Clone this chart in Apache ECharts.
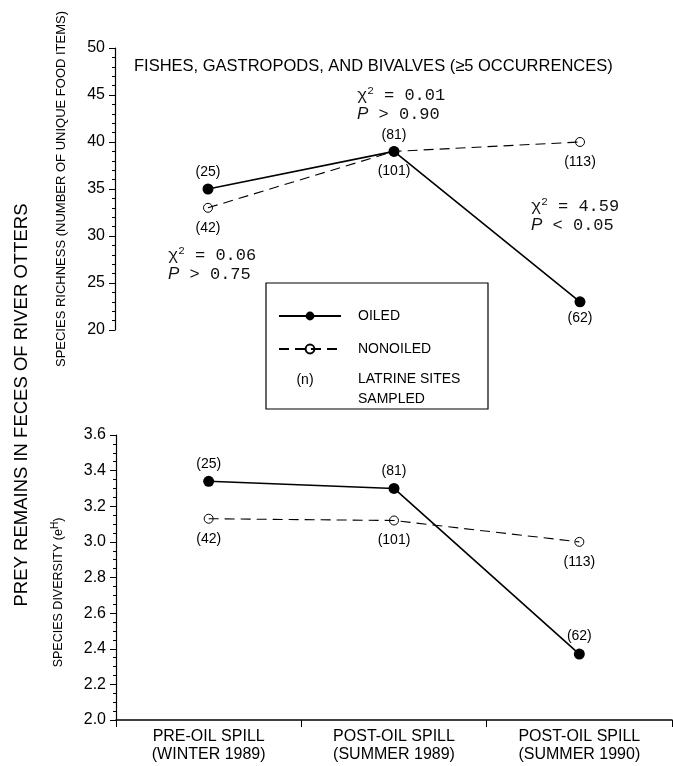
<!DOCTYPE html>
<html>
<head>
<meta charset="utf-8">
<script src="https://cdn.jsdelivr.net/npm/echarts@6/dist/echarts.min.js"></script>
<style>
html,body{margin:0;padding:0;background:#fff;}
#chart{width:673px;height:766px;}
</style>
</head>
<body>
<div id="chart"></div>
<script>
// ---- data ----
const categories = ['PRE-OIL SPILL\n(WINTER 1989)', 'POST-OIL SPILL\n(SUMMER 1989)', 'POST-OIL SPILL\n(SUMMER 1990)'];
const richnessOiled = [35, 39, 23];
const richnessNonoiled = [33, 39, 40];
const diversityOiled = [3.34, 3.30, 2.37];
const diversityNonoiled = [3.13, 3.12, 3.00];
const nOiled = [25, 81, 62];
const nNonoiled = [42, 101, 113];
const richnessRange = [20, 50, 5];
const diversityRange = [2.0, 3.6, 0.2];
const chiTests = [
  ['χ{sup|2} = 0.06', '{it|P} > 0.75'],
  ['χ{sup|2} = 0.01', '{it|P} > 0.90'],
  ['χ{sup|2} = 4.59', '{it|P} < 0.05']
];

// ---- styles (positions of labels) ----
const richOiledPos = ['top', 'top', 'bottom'];
const richNonPos = ['bottom', 'bottom', 'bottom'];
const divOiledPos = ['top', 'top', 'top'];
const divNonPos = ['bottom', 'bottom', 'bottom'];
const chiPos = [[168, 246], [357, 86], [531, 197]];

const FONT = '"Liberation Sans", Arial, sans-serif';
const MONO = '"Liberation Mono", "DejaVu Sans Mono", monospace';

function items(vals, ns, pos, dist) {
  return vals.map((v, i) => ({
    value: v,
    label: { show: true, position: pos[i], distance: dist[pos[i]], formatter: '(' + ns[i] + ')' }
  }));
}

const oiledStyle = {
  symbol: 'circle', symbolSize: 11,
  itemStyle: { color: '#000' },
  lineStyle: { color: '#000', width: 1.6 },
  label: { color: '#000', fontSize: 14, fontFamily: FONT }
};
const nonStyle = {
  symbol: 'circle', symbolSize: 9,
  itemStyle: { color: 'rgba(255,255,255,0)', borderColor: '#000', borderWidth: 1 },
  lineStyle: { color: '#000', width: 1.1, type: [10, 6] },
  label: { color: '#000', fontSize: 14, fontFamily: FONT }
};

const yAxisCommon = {
  type: 'value',
  axisLine: { show: true, lineStyle: { color: '#000', width: 1.2 } },
  axisTick: { show: true, inside: false, length: 6, lineStyle: { color: '#000' } },
  minorTick: { show: true, length: 3, lineStyle: { color: '#000' } },
  splitLine: { show: false },
  axisLabel: { color: '#000', fontSize: 16, fontFamily: FONT, margin: 10 },
  nameLocation: 'middle', nameRotate: 90,
  nameTextStyle: { color: '#000', fontSize: 13, fontFamily: FONT }
};

const graphics = [
  {
    type: 'text', x: 22, y: 405, rotation: Math.PI / 2,
    style: { text: 'PREY REMAINS IN FECES OF RIVER OTTERS', fill: '#000', font: '18.5px ' + FONT, align: 'center', verticalAlign: 'middle' }
  },
  {
    type: 'rect', shape: { x: 266, y: 283, width: 222, height: 126 },
    style: { fill: 'none', stroke: '#000', lineWidth: 1.2 }
  },
  {
    type: 'text', x: 305, y: 380,
    style: { text: '(n)', fill: '#000', font: '14px ' + FONT, align: 'center', verticalAlign: 'middle' }
  },
  {
    type: 'text', x: 358, y: 369,
    style: { text: 'LATRINE SITES\nSAMPLED', fill: '#000', font: '14px ' + FONT, lineHeight: 20, align: 'left', verticalAlign: 'top' }
  }
];
chiTests.forEach((t, i) => {
  graphics.push({
    type: 'text', x: chiPos[i][0], y: chiPos[i][1],
    style: {
      text: t[0] + '\n' + t[1], fill: '#111', fontFamily: MONO, fontSize: 17, lineHeight: 19,
      align: 'left', verticalAlign: 'top',
      rich: {
        sup: { fontSize: 11, fontFamily: MONO, verticalAlign: 'top', padding: [0, 0, 8, 0] },
        it: { fontStyle: 'italic', fontFamily: FONT, fontSize: 17 }
      }
    }
  });
});

const chart = echarts.init(document.getElementById('chart'));
chart.setOption({
  backgroundColor: '#fff',
  animation: false,
  textStyle: { fontFamily: FONT },
  title: {
    text: 'FISHES, GASTROPODS, AND BIVALVES (≥5 OCCURRENCES)',
    left: 129, top: 53,
    textStyle: { color: '#000', fontSize: 16.5, fontWeight: 'normal', fontFamily: FONT }
  },
  legend: {
    data: ['OILED', 'NONOILED'],
    orient: 'vertical', left: 273, top: 304,
    itemWidth: 62, itemHeight: 11, itemGap: 19,
    textStyle: { color: '#000', fontSize: 14, fontFamily: FONT, padding: [0, 0, 0, 12] }
  },
  grid: [
    { left: 115, top: 48, width: 564, height: 282 },
    { left: 116, top: 435, right: 1, height: 285 }
  ],
  xAxis: [
    { type: 'category', gridIndex: 0, data: categories, show: false, boundaryGap: true },
    {
      type: 'category', gridIndex: 1, data: categories, boundaryGap: true,
      axisLine: { show: true, lineStyle: { color: '#000', width: 1.5 } },
      axisTick: { show: true, length: 7, lineStyle: { color: '#000' } },
      axisLabel: { color: '#000', fontSize: 16, fontFamily: FONT, lineHeight: 18, margin: 8 }
    }
  ],
  yAxis: [
    Object.assign({}, yAxisCommon, {
      gridIndex: 0, min: richnessRange[0], max: richnessRange[1], interval: richnessRange[2],
      minorTick: { show: true, splitNumber: 5, length: 3, lineStyle: { color: '#000' } },
      name: 'SPECIES RICHNESS (NUMBER OF UNIQUE FOOD ITEMS)', nameGap: 47
    }),
    Object.assign({}, yAxisCommon, {
      gridIndex: 1, min: diversityRange[0], max: diversityRange[1], interval: diversityRange[2],
      minorTick: { show: true, splitNumber: 4, length: 3, lineStyle: { color: '#000' } },
      axisLabel: { color: '#000', fontSize: 16, fontFamily: FONT, margin: 10, formatter: v => v.toFixed(1) },
      name: 'SPECIES DIVERSITY (e{sup|H})', nameGap: 48,
      nameTextStyle: {
        color: '#000', fontSize: 12.5, fontFamily: FONT, padding: [0, 30, 0, 0],
        rich: { sup: { fontSize: 10, verticalAlign: 'top', padding: [0, 0, 8, 0] } }
      }
    })
  ],
  series: [
    Object.assign({}, nonStyle, { name: 'NONOILED', type: 'line', xAxisIndex: 0, yAxisIndex: 0, z: 2,
      data: items(richnessNonoiled, nNonoiled, richNonPos, { top: 6, bottom: 8 }) }),
    Object.assign({}, oiledStyle, { name: 'OILED', type: 'line', xAxisIndex: 0, yAxisIndex: 0, z: 3,
      data: items(richnessOiled, nOiled, richOiledPos, { top: 4, bottom: 4 }) }),
    Object.assign({}, nonStyle, { name: 'NONOILED', type: 'line', xAxisIndex: 1, yAxisIndex: 1, z: 2,
      data: items(diversityNonoiled, nNonoiled, divNonPos, { top: 6, bottom: 8 }) }),
    Object.assign({}, oiledStyle, { name: 'OILED', type: 'line', xAxisIndex: 1, yAxisIndex: 1, z: 3,
      data: items(diversityOiled, nOiled, divOiledPos, { top: 5, bottom: 5 }) })
  ],
  graphic: graphics
});
</script>
</body>
</html>
